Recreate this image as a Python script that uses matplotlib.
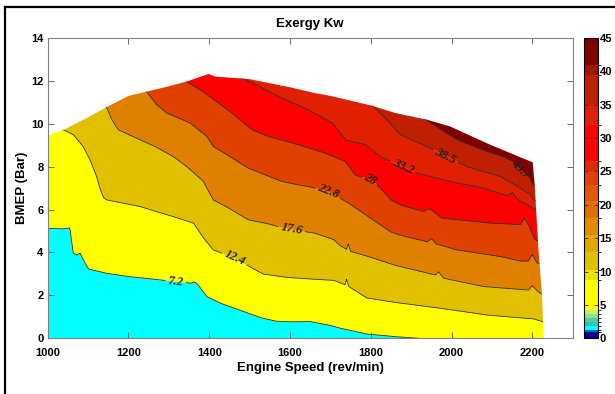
"""Exergy map over engine speed and BMEP, drawn as a filled contour chart."""

import matplotlib
matplotlib.use("Agg")
import matplotlib.pyplot as plt
import numpy as np
from matplotlib.cm import ScalarMappable
from matplotlib.colors import BoundaryNorm, ListedColormap
from matplotlib.lines import Line2D
from matplotlib.patches import Polygon

plt.rcParams["font.family"] = ["Liberation Sans", "DejaVu Sans"]
plt.rcParams["font.weight"] = "bold"

# contour levels (kW)
levels = [7.2, 12.4, 17.6, 22.8, 28.0, 33.2, 38.5, 43.7]
level_labels = ["7.2", "12.4", "17.6", "22.8", "28", "33.2", "38.5", "43.7"]

# outline of the measured region: speed (rev/min), BMEP (bar)
edge_speed = [1000, 1000, 1040, 1100, 1146, 1200, 1245, 1300, 1344, 1398, 1415, 1500,
              1600, 1662, 1700, 1803, 1861, 1939, 1997, 2096, 2201, 2206, 2212, 2216,
              2224, 2228]
edge_bmep = [0, 9.45, 9.72, 10.30, 10.78, 11.30, 11.50, 11.75, 11.97, 12.32, 12.20, 12.08,
             11.70, 11.43, 11.30, 10.84, 10.50, 10.19, 9.87, 9.02, 8.20, 7.10, 5.10, 3.90,
             2.00, 0]

# iso-exergy lines (points past the outline only shape the field)
line_7_2_speed = [1000, 1040, 1055, 1063, 1072, 1080, 1090, 1101, 1146, 1200, 1250, 1300,
                  1355, 1362, 1370, 1394, 1430, 1460, 1500, 1530, 1565, 1600, 1650, 1700,
                  1725, 1790, 1860, 1920, 2000, 2240]
line_7_2_bmep = [5.13, 5.10, 5.15, 3.97, 3.88, 3.97, 3.60, 3.23, 3.03, 2.88, 2.78, 2.68,
                 2.57, 2.63, 2.55, 1.95, 1.62, 1.42, 1.15, 0.95, 0.80, 0.77, 0.78, 0.60,
                 0.47, 0.20, 0.08, 0.0, -0.4, -0.6]

line_12_4_speed = [1039, 1064, 1088, 1105, 1121, 1130, 1138, 1146, 1200, 1229, 1270, 1311,
                   1361, 1386, 1410, 1440, 1464, 1514, 1534, 1596, 1662, 1708, 1736, 1740,
                   1745, 1790, 1861, 1972, 2090, 2204, 2226]
line_12_4_bmep = [9.72, 9.49, 8.94, 8.32, 7.54, 6.95, 6.56, 6.45, 6.25, 6.14, 5.90, 5.67,
                  5.37, 4.67, 4.12, 3.90, 3.73, 3.19, 2.99, 2.83, 2.75, 2.70, 2.50, 2.75,
                  2.42, 1.88, 1.67, 1.40, 1.08, 0.90, 0.77]

line_17_6_speed = [1146, 1159, 1175, 1229, 1270, 1311, 1344, 1386, 1394, 1410, 1448, 1497,
                   1543, 1580, 1625, 1662, 1708, 1725, 1740, 1744, 1750, 1794, 1861, 1960,
                   1968, 1980, 2080, 2190, 2200, 2210, 2219]
line_17_6_bmep = [10.78, 10.19, 9.72, 9.25, 8.90, 8.47, 8.01, 7.31, 7.00, 6.45, 6.07, 5.52,
                  5.35, 5.16, 5.00, 4.90, 4.60, 4.30, 4.15, 4.40, 4.05, 3.81, 3.40, 2.95,
                  3.10, 2.80, 2.41, 2.25, 2.45, 2.25, 2.10]

line_22_8_speed = [1245, 1270, 1295, 1353, 1394, 1410, 1427, 1497, 1580, 1621, 1646, 1695,
                   1745, 1811, 1850, 1873, 1940, 1950, 1962, 2013, 2121, 2170, 2190, 2200,
                   2212]
line_22_8_bmep = [11.50, 10.89, 10.50, 10.03, 9.41, 8.94, 8.75, 7.93, 7.31, 7.15, 7.07, 6.84,
                  6.30, 5.45, 4.95, 4.80, 4.50, 4.65, 4.40, 4.12, 3.81, 3.60, 3.60, 3.90,
                  3.50]

line_28_speed = [1344, 1377, 1418, 1456, 1506, 1547, 1621, 1687, 1737, 1762, 1800, 1824,
                 1850, 1875, 1931, 1945, 1976, 2096, 2170, 2180, 2192, 2204, 2212]
line_28_bmep = [11.97, 11.59, 11.04, 10.50, 9.72, 9.41, 9.02, 8.63, 8.24, 7.60, 7.40, 7.00,
                6.45, 6.20, 5.91, 6.05, 5.60, 5.37, 5.30, 5.60, 5.25, 4.67, 4.55]

line_33_2_speed = [1000, 1400, 1492, 1580, 1646, 1705, 1738, 1788, 1823, 1856, 1914, 1997,
                   2080, 2137, 2150, 2162, 2195, 2206]
line_33_2_bmep = [12.6, 12.6, 12.05, 11.20, 10.65, 10.03, 9.25, 9.02, 8.47, 8.20, 7.70, 7.31,
                  7.00, 6.65, 6.80, 6.50, 6.14, 6.00]

line_38_5_speed = [1000, 1500, 1700, 1760, 1807, 1840, 1873, 1939, 2038, 2121, 2162, 2195, 2205]
line_38_5_bmep = [12.9, 12.9, 11.8, 11.6, 10.80, 10.19, 9.49, 8.94, 8.00, 7.54, 7.10, 6.70, 6.40]

line_43_7_speed = [1000, 1500, 1700, 1850, 1935, 2013, 2087, 2137, 2162, 2195, 2203]
line_43_7_bmep = [13.5, 13.5, 12.4, 11.3, 10.2, 9.25, 8.71, 8.40, 8.00, 7.39, 7.10]

# colorbar steps (kW) and their colours
cbar_bounds = [0, 0.9, 1.3, 1.9, 2.4, 3.0, 3.6, 4.3, 8.8, 10.2, 13.0, 15.5, 18.0, 20.5,
               23.0, 25.0, 26.5, 32.0, 35.0, 39.5, 41.0, 45]
cbar_colors = ["#000090", "#0060FF", "#00FFFF", "#30C0C0", "#50D0A0", "#90E090", "#C8F070",
               "#FFFF00", "#E6E600", "#E0C000", "#E0A800", "#E08C00", "#E07000", "#E05800",
               "#E04000", "#E02800", "#FF0000", "#E02000", "#C02000", "#A01800", "#800000"]

fill_colors = ["#00FFFF", "#FFFF00", "#E0C000", "#E08000", "#E04000", "#FF0000",
               "#E02000", "#C02000", "#800000"]

iso_lines = [
    (line_7_2_speed, line_7_2_bmep),
    (line_12_4_speed, line_12_4_bmep),
    (line_17_6_speed, line_17_6_bmep),
    (line_22_8_speed, line_22_8_bmep),
    (line_28_speed, line_28_bmep),
    (line_33_2_speed, line_33_2_bmep),
    (line_38_5_speed, line_38_5_bmep),
    (line_43_7_speed, line_43_7_bmep),
]

# build the exergy field column by column from the iso-lines
speed_grid = np.linspace(1000, 2240, 621)
bmep_grid = np.linspace(-0.5, 13.0, 676)
exergy = np.empty((bmep_grid.size, speed_grid.size))
for j, speed in enumerate(speed_grid):
    crossings = [np.interp(speed, sp, bm) for sp, bm in iso_lines]
    xp = [-3.0] + crossings + [16.0]
    fp = [0.0] + levels + [55.0]
    exergy[:, j] = np.interp(bmep_grid, xp, fp)

fig = plt.figure(figsize=(6.15, 3.94), dpi=100)
ax = fig.add_axes([0.0776, 0.1414, 0.8537, 0.7622])

outline = Polygon(np.column_stack([edge_speed, edge_bmep]), closed=True,
                  transform=ax.transData, facecolor="none", edgecolor="none")

cf = ax.contourf(speed_grid, bmep_grid, exergy, levels=[-1] + levels + [60],
                 colors=fill_colors, antialiased=True)
cf.set_clip_path(outline)
cs = ax.contour(speed_grid, bmep_grid, exergy, levels=levels, colors="#222222",
                linewidths=0.55)
cs.set_clip_path(outline)

label_pos = [(1318, 2.9), (1464, 3.8), (1605, 5.2), (1695, 6.85), (1799, 7.4),
             (1880, 8.0), (1985, 8.5), (2170, 7.9)]
texts = ax.clabel(cs, fmt=dict(zip(levels, level_labels)), manual=label_pos,
                  inline=True, inline_spacing=2, fontsize=9)
for t in texts:
    t.set_fontfamily("Liberation Serif")
    t.set_fontweight("bold")
    t.set_fontstyle("italic")

ax.set_xlim(1000, 2300)
ax.set_ylim(0, 14)
ax.set_xticks(range(1000, 2201, 200))
ax.set_yticks(range(0, 15, 2))
ax.tick_params(direction="in", top=True, right=True, length=4, width=0.6,
               color="#555555", labelsize=8)
ax.tick_params(axis="x", pad=7)
ax.tick_params(axis="y", pad=3)
for spine in ax.spines.values():
    spine.set_color("#808080")
    spine.set_linewidth(0.8)

ax.set_title("Exergy Kw", fontsize=9.5, fontweight="bold", pad=8)
ax.set_xlabel("Engine Speed (rev/min)", fontsize=9.5, fontweight="bold", labelpad=3)
ax.set_ylabel("BMEP (Bar)", fontsize=9.5, fontweight="bold", labelpad=2.5)

cax = fig.add_axes([0.9496, 0.1414, 0.0228, 0.7622])
sm = ScalarMappable(norm=BoundaryNorm(cbar_bounds, len(cbar_colors)),
                    cmap=ListedColormap(cbar_colors))
cbar = fig.colorbar(sm, cax=cax, ticks=range(0, 46, 5), spacing="proportional")
cbar.ax.tick_params(direction="in", left=True, right=True, length=3, width=0.6,
                    color="#333333", labelsize=8, pad=1)
cbar.outline.set_linewidth(0.8)

# page frame around the figure
fig.add_artist(Line2D([5 / 615, 5 / 615], [0, 1 - 7 / 394], transform=fig.transFigure,
                      color="black", linewidth=1.6))
fig.add_artist(Line2D([5 / 615, 1], [1 - 7 / 394, 1 - 7 / 394], transform=fig.transFigure,
                      color="black", linewidth=1.6))

fig.savefig("out.png", dpi=100)
plt.close(fig)
